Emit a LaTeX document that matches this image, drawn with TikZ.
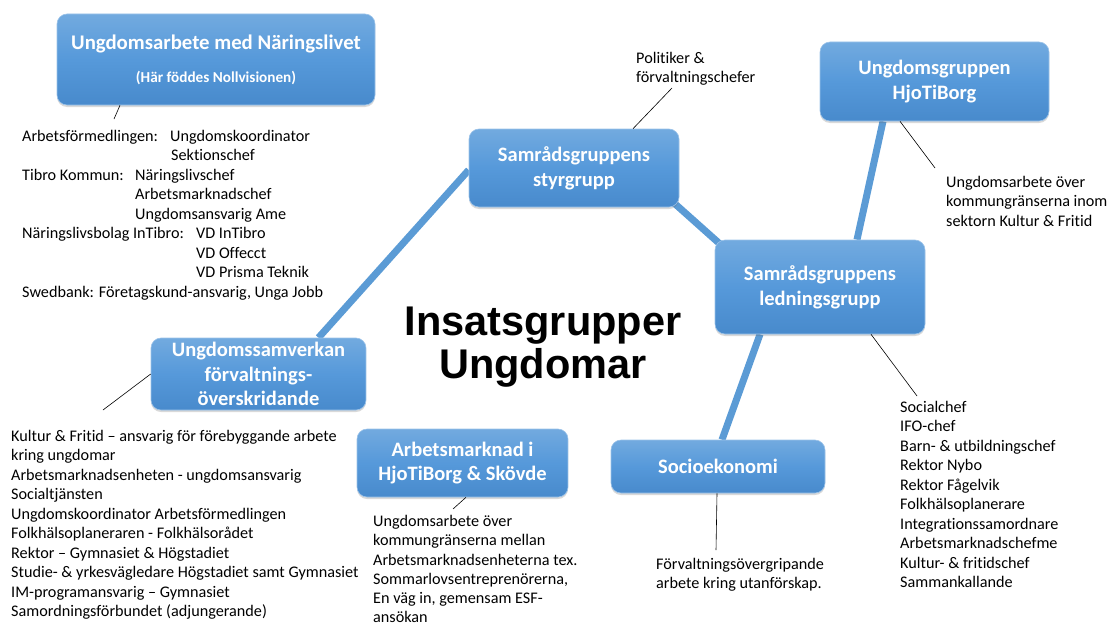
\documentclass[tikz,border=0pt]{standalone}
\usepackage{fontspec}
\setmainfont[Ligatures=NoCommon]{Carlito}
\newfontfamily\titlefont{Liberation Sans}
\usetikzlibrary{shadows}
\pgfdeclarelayer{background}
\pgfsetlayers{background,main}
\definecolor{boxtop}{RGB}{114,170,223}
\definecolor{boxmid}{RGB}{86,153,218}
\definecolor{boxbot}{RGB}{72,138,204}
\definecolor{linkblue}{RGB}{91,155,213}
\begin{document}
\begin{tikzpicture}[x=1pt,y=-1pt]
\tikzstyle{box}=[rounded corners=10pt,top color=boxtop,bottom color=boxbot,middle color=boxmid,
  draw=boxtop!70!white,line width=0.6pt,text=white,align=center,inner sep=0pt,
  font=\bfseries\fontsize{20.5}{24.8}\selectfont,
  drop shadow={shadow xshift=0pt,shadow yshift=-2pt,opacity=.25,fill=black!60}]
\tikzstyle{link}=[line width=7pt,linkblue]
\tikzstyle{lead}=[line width=0.6pt,black]
\tikzstyle{notes}=[anchor=north west,inner sep=0pt,align=left,font=\fontsize{16.2}{19.5}\selectfont]
\useasboundingbox (0,0) rectangle (1107,626);
\node[box,minimum width=318,minimum height=91] (naering) at (216,59.5)
  {{\fontsize{20.8}{24}\selectfont Ungdomsarbete med Näringslivet}\\[8pt]{\fontsize{15.2}{17}\selectfont (Här föddes Nollvisionen)}};
\node[box,minimum width=210,minimum height=78] (styr) at (574,168) {Samrådsgruppens\\styrgrupp};
\node[box,minimum width=229,minimum height=79] (hjo) at (934.5,81.5) {Ungdomsgruppen\\HjoTiBorg};
\node[box,minimum width=210,minimum height=94] (ledning) at (820,287) {Samrådsgruppens\\ledningsgrupp};
\node[box,minimum width=215,minimum height=72] (samverkan) at (258.5,374) {Ungdomssamverkan\\förvaltnings-\\överskridande};
\node[box,minimum width=211,minimum height=68] (arbets) at (462.5,463) {Arbetsmarknad i\\HjoTiBorg \& Skövde};
\node[box,minimum width=214,minimum height=53] (socio) at (718,466.5) {Socioekonomi};
\begin{pgfonlayer}{background}
\draw[link] ([yshift=-2pt]styr.west) -- ([xshift=60pt]samverkan.north);
\draw[link] ([xshift=-9.4pt,yshift=8pt]styr.south east) -- ([xshift=9.4pt,yshift=-8pt]ledning.north west);
\draw[link] ([xshift=-51.5pt]hjo.south) -- ([xshift=37pt]ledning.north);
\draw[link] ([xshift=-60pt]ledning.south) -- ([xshift=4pt]socio.north);
\end{pgfonlayer}
\node[font=\titlefont\bfseries\fontsize{41.5}{43}\selectfont,align=center] (title) at (543,347) {Insatsgrupper\\Ungdomar};
\node[notes] (naeringtext) at (22,130) {%
\makebox[148pt][l]{Arbetsförmedlingen:}Ungdomskoordinator\\
\hspace*{149pt}Sektionschef\\
\makebox[113pt][l]{Tibro Kommun:}Näringslivschef\\
\hspace*{113pt}Arbetsmarknadschef\\
\hspace*{113pt}Ungdomsansvarig Ame\\
\makebox[174pt][l]{Näringslivsbolag InTibro:}VD InTibro\\
\hspace*{174pt}VD Offecct\\
\hspace*{174pt}VD Prisma Teknik\\
Swedbank: Företagskund-ansvarig, Unga Jobb};
\node[notes] (styrtext) at (636,52) {Politiker \&\\förvaltningschefer};
\node[notes] (hjotext) at (946,176) {Ungdomsarbete över\\kommungränserna inom\\sektorn Kultur \& Fritid};
\node[notes] (ledningtext) at (900,401) {Socialchef\\IFO-chef\\Barn- \& utbildningschef\\Rektor Nybo\\Rektor Fågelvik\\Folkhälsoplanerare\\Integrationssamordnare\\Arbetsmarknadschefme\\Kultur- \& fritidschef\\Sammankallande};
\node[notes] (sociotext) at (656,558) {Förvaltningsövergripande\\arbete kring utanförskap.};
\node[notes,font=\fontsize{16.2}{19.3}\selectfont] (arbetstext) at (373,515) {Ungdomsarbete över\\kommungränserna mellan\\Arbetsmarknadsenheterna tex.\\Sommarlovsentreprenörerna,\\En väg in, gemensam ESF-\\ansökan};
\node[notes] (samverkantext) at (11,430) {Kultur \& Fritid -- ansvarig för förebyggande arbete\\kring ungdomar\\Arbetsmarknadsenheten - ungdomsansvarig\\Socialtjänsten\\Ungdomskoordinator Arbetsförmedlingen\\Folkhälsoplaneraren - Folkhälsorådet\\Rektor -- Gymnasiet \& Högstadiet\\Studie- \& yrkesvägledare Högstadiet samt Gymnasiet\\IM-programansvarig -- Gymnasiet\\Samordningsförbundet (adjungerande)};
\coordinate (naeringend) at (114,119);
\coordinate (styrend) at (672,88);
\coordinate (hjoend) at (935,168);
\coordinate (ledningend) at (917,396);
\coordinate (socioend) at (716,550);
\coordinate (samverkanend) at (103,410);
\coordinate (arbetsend) at (453,509);
\draw[lead] ([xshift=-96pt]naering.south) -- (naeringend);
\draw[lead] ([xshift=59pt]styr.north) -- (styrend);
\draw[lead] ([xshift=-34.5pt]hjo.south) -- (hjoend);
\draw[lead] ([xshift=51pt]ledning.south) -- (ledningend);
\draw[lead] ([xshift=-1pt]socio.south) -- (socioend);
\draw[lead] (samverkan.west) -- (samverkanend);
\draw[lead] ([xshift=3.5pt]arbets.south) -- (arbetsend);
\end{tikzpicture}
\end{document}
